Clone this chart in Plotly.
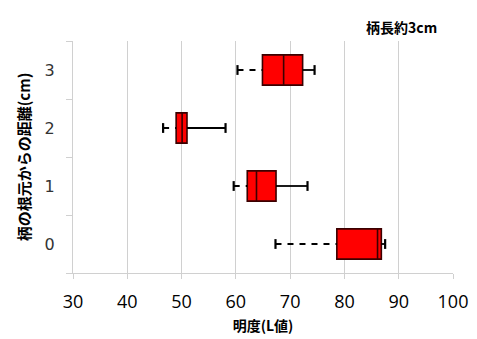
import plotly.graph_objects as go

# Data
categories = [0, 1, 2, 3]
mins = [67.3, 59.6, 46.6, 60.3]
q1s = [78.6, 62.1, 49.0, 64.9]
medians = [86.1, 63.8, 50.1, 68.8]
q3s = [86.8, 67.4, 51.0, 72.3]
maxs = [87.5, 73.2, 58.1, 74.5]
x_ticks = [30, 40, 50, 60, 70, 80, 90, 100]

fig = go.Figure()

# boxes
for c, a, m, b in zip(categories, q1s, medians, q3s):
    fig.add_trace(go.Box(
        y=[c], q1=[a], median=[m], q3=[b], lowerfence=[a], upperfence=[b],
        orientation="h", width=0.52, fillcolor="#ff0000",
        line=dict(color="#3a0000", width=1.6), whiskerwidth=0,
        showlegend=False, hoverinfo="skip", boxpoints=False))

# lower whiskers (dashed)
for c, lo, a in zip(categories, mins, q1s):
    fig.add_trace(go.Scatter(
        x=[lo, a], y=[c, c], mode="lines",
        line=dict(color="black", width=1.8, dash="6px,6px"),
        showlegend=False, hoverinfo="skip"))
    fig.add_trace(go.Scatter(
        x=[lo], y=[c], mode="markers",
        marker=dict(symbol="line-ns", size=7, line=dict(color="black", width=2.2)),
        showlegend=False, hoverinfo="skip"))

# upper whiskers (solid)
for c, b, hi in zip(categories, q3s, maxs):
    fig.add_trace(go.Scatter(
        x=[b, hi], y=[c, c], mode="lines",
        line=dict(color="black", width=1.8),
        showlegend=False, hoverinfo="skip"))
    fig.add_trace(go.Scatter(
        x=[hi], y=[c], mode="markers",
        marker=dict(symbol="line-ns", size=7, line=dict(color="black", width=2.2)),
        showlegend=False, hoverinfo="skip"))

fig.update_layout(
    width=477, height=339,
    margin=dict(l=73, r=24, t=41, b=66),
    paper_bgcolor="white", plot_bgcolor="white",
    xaxis=dict(
        range=[30, 100], tickvals=x_ticks, ticktext=[str(v) for v in x_ticks],
        automargin=False,
        showgrid=True, gridcolor="#d0d0d0", gridwidth=1, zeroline=False,
        showline=True, linecolor="#d0d0d0", linewidth=1,
        ticks="outside", ticklen=5, tickcolor="#d0d0d0", ticklabelstandoff=7,
        tickfont=dict(family="Open Sans, Liberation Sans, sans-serif", size=18, color="black"),
        title=dict(text="明度(L値)", font=dict(family="Noto Sans CJK JP", size=14, color="black", weight="bold"), standoff=9),
    ),
    yaxis=dict(
        range=[-0.5, 3.5], tickvals=categories, ticktext=[str(c) for c in categories],
        automargin=False,
        showgrid=False, zeroline=False, showline=True, linecolor="#d0d0d0", linewidth=1,
        ticks="", ticklabelstandoff=14,
        minor=dict(tick0=0.5, dtick=1, ticks="outside", ticklen=6, tickcolor="#d0d0d0", showgrid=False),
        tickfont=dict(family="DejaVu Sans, sans-serif", size=16, color="#333333"),
        title=dict(text="柄の根元からの距離(cm)", font=dict(family="Noto Sans CJK JP", size=15, color="black", weight="bold"), standoff=10),
    ),
    annotations=[dict(
        text="柄長約3cm", showarrow=False,
        font=dict(family="Noto Sans CJK JP", size=14, color="black", weight="bold"),
        xref="paper", yref="paper",
        x=(401 - 73) / (477 - 73 - 24), y=1 + (41 - 27) / (339 - 41 - 66),
        xanchor="center", yanchor="middle",
    )],
)

fig.write_html("out.html")
